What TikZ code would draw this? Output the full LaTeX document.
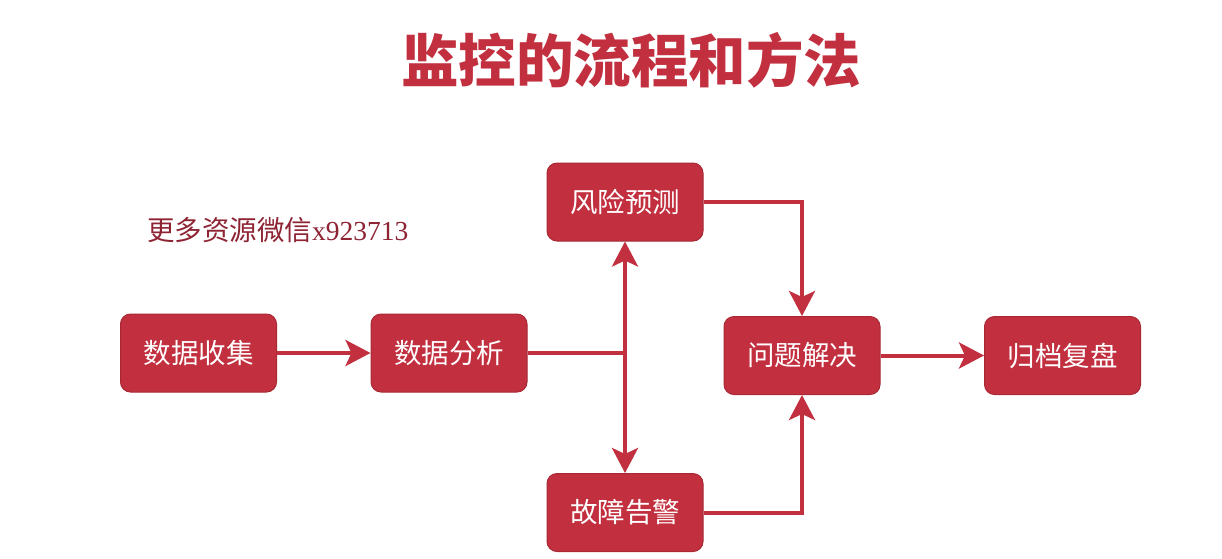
\documentclass[tikz,border=0pt]{standalone}
\usepackage{fontspec}
\usetikzlibrary{arrows.meta,positioning}
\newfontfamily\cjk{Noto Sans CJK SC}
\newfontfamily\cjkheavy{Noto Sans CJK SC Black}
\newfontfamily\latinserif{Liberation Serif}
\definecolor{flowred}{HTML}{C2303F}
\definecolor{flowedge}{HTML}{A82834}
\definecolor{notered}{HTML}{8E2433}
\begin{document}
\begin{tikzpicture}[x=1pt,y=-1pt,
  stepbox/.style={draw=flowedge, line width=1pt, fill=flowred, rounded corners=10pt,
    minimum width=156pt, minimum height=78pt, text=white, inner sep=0pt,
    font=\cjk\fontsize{27.5}{32}\selectfont},
  flow/.style={draw=flowred, line width=4pt},
  flowarrow/.style={flow, -{Stealth[length=25pt,width=26pt,inset=6pt]}}]
\useasboundingbox (0,0) rectangle (1222,558);
\fill[white] (0,0) rectangle (1222,558);

% heading
\node[text=flowred, font=\cjkheavy\fontsize{57.5}{64}\selectfont] (title) at (631,60) {监控的流程和方法};

% note line
\node[anchor=west, text=notered, inner sep=0pt, font=\cjk\fontsize{27.5}{32}\selectfont] (note) at (147,230)
  {更多资源微信{\latinserif x923713}};

% process steps
\node[stepbox] (collect) at (198.5,353) {数据收集};
\node[stepbox] (analyse) at (449,353) {数据分析};
\node[stepbox] (risk)    at (625,202) {风险预测};
\node[stepbox] (alarm)   at (625,512.5) {故障告警};
\node[stepbox] (solve)   at (802,355.5) {问题解决};
\node[stepbox] (archive) at (1062.5,355.5) {归档复盘};

\coordinate (split) at (625,353);

% connectors
\draw[flowarrow] (collect.east) -- (analyse.west);
\draw[flow] (analyse.east) -- (split);
\draw[flowarrow] (split) -- (risk.south);
\draw[flowarrow] (split) -- (alarm.north);
\draw[flowarrow] (risk.east) -| (solve.north);
\draw[flowarrow] (alarm.east) -| (solve.south);
\draw[flowarrow] (solve.east) -- (archive.west);
\end{tikzpicture}
\end{document}
